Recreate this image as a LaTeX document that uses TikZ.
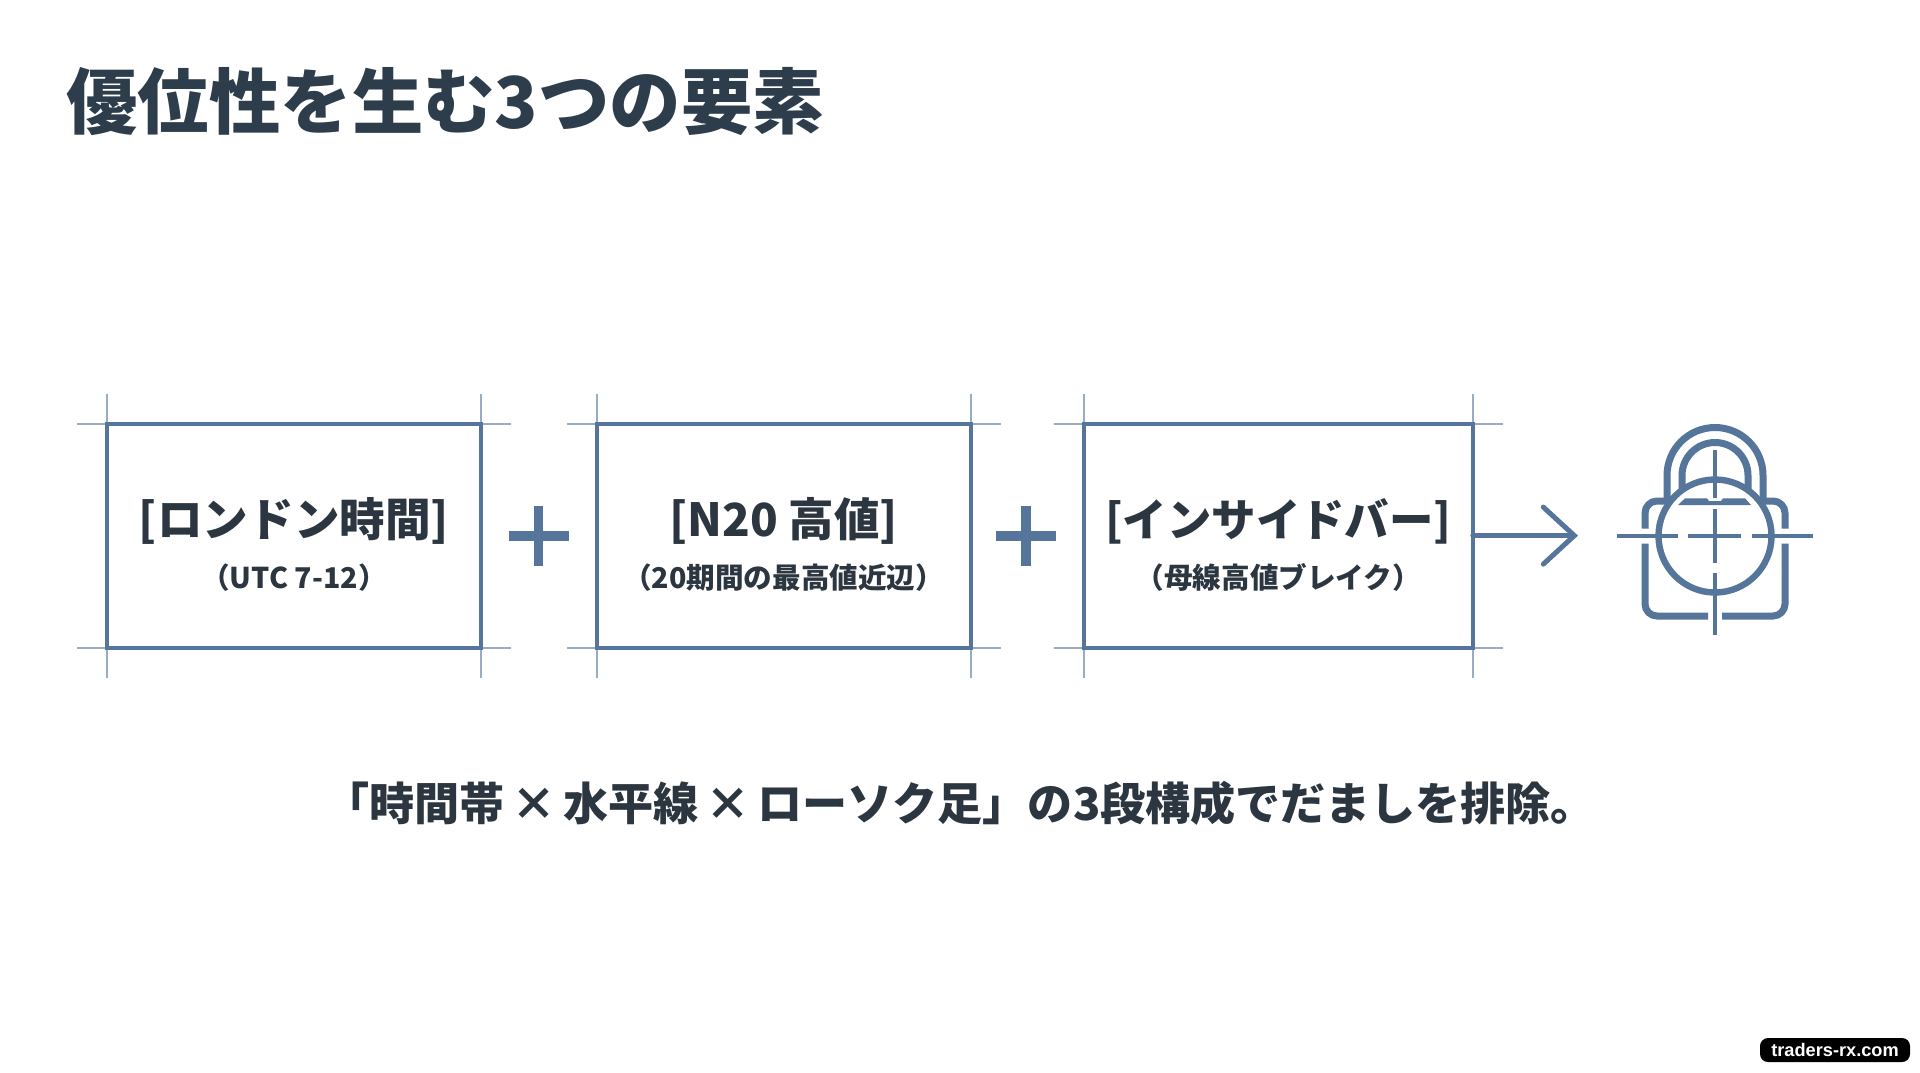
\documentclass[tikz,border=0pt]{standalone}
\usepackage{fontspec}
\setmainfont{Noto Sans CJK JP}
\setsansfont{Liberation Sans}
\usetikzlibrary{arrows.meta}
\definecolor{acero}{HTML}{55769A}
\definecolor{tinta}{HTML}{2E3D4B}
\definecolor{oscuro}{HTML}{2B3640}
\tikzset{
    marco/.style={draw=acero,line width=2pt,minimum width=187pt,minimum height=112pt,inner sep=0pt,outer sep=0pt},
    marca/.style={draw=acero!60!white,line width=0.9pt},
    suma/.style={draw=acero,line width=4.6pt},
    trazo/.style={draw=acero,line width=3.5pt},
    retic/.style={draw=acero,line width=2.2pt},
    titulo/.style={text=oscuro,font=\fontsize{22.8}{26}\selectfont\bfseries,inner sep=0pt},
    subtitulo/.style={text=oscuro,font=\fontsize{14.3}{18}\selectfont\bfseries,inner sep=0pt},
}
% Lineas finas que cruzan las cuatro esquinas de un marco; el borde vuelve a quedar encima.
\newcommand{\marcas}[1]{
    \draw[marca] ([yshift=15pt]#1.north west) -- ([yshift=-15pt]#1.south west);
    \draw[marca] ([yshift=15pt]#1.north east) -- ([yshift=-15pt]#1.south east);
    \draw[marca] ([xshift=-15pt]#1.north west) -- ([xshift=15pt]#1.north east);
    \draw[marca] ([xshift=-15pt]#1.south west) -- ([xshift=15pt]#1.south east);
    \draw[acero,line width=2pt] (#1.north west) rectangle (#1.south east);
}
\newcommand{\por}{\makebox[1.3em][c]{×}}
\begin{document}
\begin{tikzpicture}[x=0.5pt,y=-0.5pt]
    \useasboundingbox[fill=white] (0,0) rectangle (1920,1072);

    % Titulo de la pagina.
    \node[anchor=west,text=tinta,font=\fontsize{35.7}{40}\selectfont\bfseries,inner sep=0pt] (cabecera) at (66,102) {優位性を生む3つの要素};

    % Dibuja los tres marcos con sus textos.
    \node[marco] (londres) at (294,535.6) {};
    \node[marco] (maximo) at (783.7,535.6) {};
    \node[marco,minimum width=194.5pt] (barra) at (1278.3,535.6) {};
    \marcas{londres}
    \marcas{maximo}
    \marcas{barra}

    \node[titulo] (londresT) at (294,521) {[ロンドン時間]};
    \node[subtitulo] (londresS) at (294,577.5) {（UTC 7-12）};
    \node[titulo] (maximoT) at (783.7,521) {[N20 高値]};
    \node[subtitulo] (maximoS) at (783.7,577.5) {（20期間の最高値近辺）};
    \node[titulo,font=\fontsize{22.2}{26}\selectfont\bfseries] (barraT) at (1278.3,521) {[インサイドバー]};
    \node[subtitulo] (barraS) at (1278.3,577.5) {（母線高値ブレイク）};

    % Signos de suma entre los marcos.
    \draw[suma] (538.8,506) -- (538.8,566);
    \draw[suma] (508.8,536) -- (568.8,536);
    \draw[suma] (1026,506) -- (1026,566);
    \draw[suma] (996,536) -- (1056,536);

    % Flecha hacia el candado.
    \coordinate (punta) at (1578,535.6);
    \draw[acero,line width=2.5pt,line cap=round,-{Straight Barb[length=15.5pt,width=28.5pt,line cap=round]}] (barra.east) -- (punta);

    % Dibuja el candado con la mira encima.
    \begin{scope}[shift={(1715,536)}]
        \coordinate (mira) at (0,0);
        \draw[trazo] (-48,-35) -- (-48,-60.5) arc[start angle=180,end angle=360,radius=48] -- (48,-35);
        \draw[trazo] (-33,-35) -- (-33,-60.5) arc[start angle=180,end angle=360,radius=33] -- (33,-35);
        \draw[trazo,rounded corners=6pt] (-70,-7.5) -- (-70,-35) -- (70,-35) -- (70,-7.5);
        \draw[trazo,rounded corners=6pt] (-70,7.5) -- (-70,80) -- (-7,80);
        \draw[trazo,rounded corners=6pt] (70,7.5) -- (70,80) -- (7,80);
        \draw[draw=acero,fill=white,line width=3.2pt] (mira) circle[radius=56.5];
        \fill[acero] (-37,-31) -- (-30,-37.7) -- (-8,-37.7) -- (-6,-35) -- (6,-35) -- (8,-37.7) -- (30,-37.7) -- (36,-31) -- cycle;
        \draw[retic] (-98,0) -- (-37,0);
        \draw[retic] (-27,0) -- (26,0);
        \draw[retic] (37,0) -- (98,0);
        \draw[retic] (0,-86) -- (0,-37.7);
        \draw[retic] (0,-26.7) -- (0,26.7);
        \draw[retic] (0,37.3) -- (0,99);
    \end{scope}

    % Frase inferior.
    \node[text=oscuro,font=\fontsize{22.55}{26}\selectfont\bfseries,inner sep=0pt] (frase) at (960,803.5) {「時間帯\por 水平線\por ローソク足」の3段構成でだましを排除。};

    % Sello de la web.
    \node[fill=black,rounded corners=4pt,text=white,font=\sffamily\bfseries\fontsize{9.1}{10}\selectfont,minimum width=75pt,minimum height=12pt,inner sep=0pt] (sello) at (1835,1050) {traders-rx.com};
\end{tikzpicture}
\end{document}
